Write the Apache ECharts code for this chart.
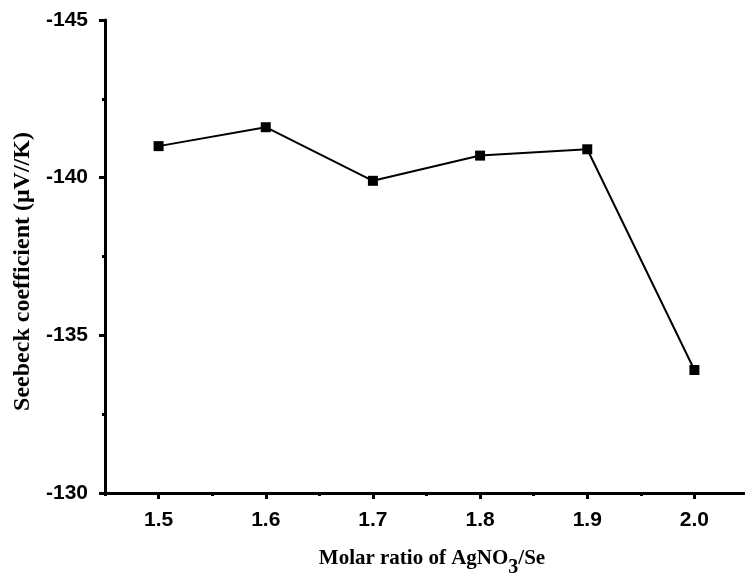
<!DOCTYPE html>
<html>
<head>
<meta charset="utf-8">
<script src="https://cdn.jsdelivr.net/npm/echarts@6/dist/echarts.min.js"></script>
<style>
  html, body { margin: 0; padding: 0; background: #fff; }
  #chart { width: 745px; height: 577px; }
</style>
</head>
<body>
<div id="chart"></div>
<script>
// Molar ratio of AgNO3/Se vs. Seebeck coefficient
const ratios = [1.5, 1.6, 1.7, 1.8, 1.9, 2.0];
const seebeck = [-141.0, -141.6, -139.9, -140.7, -140.9, -133.9];
const xTickValues = [1.5, 1.6, 1.7, 1.8, 1.9, 2.0];
const xMinorTickValues = [1.45, 1.55, 1.65, 1.75, 1.85, 1.95, 2.05];

const chart = echarts.init(document.getElementById('chart'), null, { renderer: 'canvas' });

const axisColor = '#000';
const tickFont = { fontFamily: 'Liberation Sans, Arial, sans-serif', fontWeight: 'bold', fontSize: 21, color: '#000' };
const serifBold = { fontFamily: 'Liberation Serif, Times New Roman, serif', fontWeight: 'bold', color: '#000' };

chart.setOption({
  animation: false,
  backgroundColor: '#fff',
  grid: { left: 105, top: 20, width: 643, height: 473, containLabel: false, outerBoundsMode: 'none' },
  xAxis: [
    {
      type: 'value',
      min: 1.45,
      max: 2.05,
      name: '{a|Molar ratio of AgNO}{s|3}{a|/Se}',
      nameLocation: 'middle',
      nameGap: 52,
      nameTextStyle: {
        padding: [0, 0, 0, 11],
        rich: {
          a: { ...serifBold, fontSize: 21, lineHeight: 24, verticalAlign: 'bottom' },
          s: { ...serifBold, fontSize: 20, lineHeight: 24, verticalAlign: 'bottom', padding: [0, 0, -9, 0] }
        }
      },
      axisLine: { show: true, onZero: false, lineStyle: { color: axisColor, width: 3 } },
      axisTick: { show: true, inside: false, length: 6, lineStyle: { color: axisColor, width: 3 }, customValues: xTickValues },
      axisLabel: { show: true, margin: 17, customValues: xTickValues, formatter: v => v.toFixed(1), ...tickFont },
      splitLine: { show: false }
    },
    {
      type: 'value',
      min: 1.45,
      max: 2.05,
      position: 'bottom',
      axisLine: { show: false, onZero: false },
      axisTick: { show: true, inside: false, length: 3, lineStyle: { color: axisColor, width: 3 }, customValues: xMinorTickValues },
      axisLabel: { show: false },
      splitLine: { show: false }
    }
  ],
  yAxis: {
    type: 'value',
    inverse: true,
    min: -145,
    max: -130,
    interval: 5,
    name: 'Seebeck coefficient (\u03bcV//K)',
    nameLocation: 'middle',
    nameRotate: 90,
    nameGap: 69,
    nameTextStyle: { ...serifBold, fontSize: 24, padding: [0, 30, 0, 0] },
    axisLine: { show: true, onZero: false, lineStyle: { color: axisColor, width: 3 } },
    axisTick: { show: true, inside: false, length: 6, lineStyle: { color: axisColor, width: 3 } },
    minorTick: { show: true, splitNumber: 2, length: 3, lineStyle: { color: axisColor, width: 3 } },
    axisLabel: { margin: 17, ...tickFont },
    splitLine: { show: false },
    minorSplitLine: { show: false }
  },
  series: [
    {
      type: 'line',
      data: ratios.map((r, i) => [r, seebeck[i]]),
      symbol: 'rect',
      symbolSize: 10,
      showAllSymbol: true,
      lineStyle: { color: '#000', width: 2 },
      itemStyle: { color: '#000' }
    }
  ]
});
</script>
</body>
</html>
